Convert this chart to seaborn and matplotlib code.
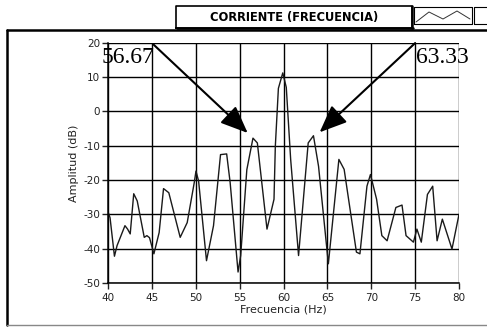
import matplotlib
matplotlib.use("Agg")
import matplotlib.pyplot as plt
import seaborn as sns
import pandas as pd

# Data
freq = [40.0, 40.2, 40.7, 41.0, 41.9, 42.2, 42.5, 42.9, 43.3, 44.1, 44.4, 44.7, 45.2,
        45.8, 46.3, 46.9, 48.2, 49.0, 49.8, 50.0, 50.3, 51.2, 52.0, 52.8, 53.5, 53.9,
        54.8, 55.1, 55.8, 56.5, 57.0, 58.1, 58.9, 59.05, 59.4, 59.9, 60.3, 60.8, 61.7,
        62.8, 63.4, 63.98, 65.1, 66.3, 66.9, 68.3, 68.7, 69.5, 69.9, 70.6, 71.2, 71.8,
        72.8, 73.5, 73.96, 74.8, 75.2, 75.7, 76.4, 77.0, 77.5, 78.1, 79.2, 80.0]
amp = [-29.5, -31.0, -42.2, -39.1, -33.3, -34.3, -35.7, -24.0, -26.1, -36.7, -36.2, -36.8, -41.5,
       -35.3, -22.5, -23.7, -36.7, -32.4, -20.8, -17.4, -20.3, -43.5, -33.3, -12.6, -12.4, -20.8,
       -46.8, -42.0, -17.0, -7.8, -9.2, -34.3, -25.6, -10.2, 6.7, 11.2, 7.0, -14.0, -42.0,
       -9.2, -7.1, -16.0, -44.4, -14.0, -16.9, -41.0, -41.5, -21.8, -18.4, -25.6, -36.2, -37.7,
       -28.0, -27.3, -36.2, -38.1, -34.3, -38.1, -24.2, -21.8, -37.7, -31.4, -40.1, -30.0]
x_ticks = [40, 45, 50, 55, 60, 65, 70, 75, 80]
y_ticks = [-50, -40, -30, -20, -10, 0, 10, 20]
peak_labels = ["56.67", "63.33"]
legend_label = "CORRIENTE (FRECUENCIA)"

df = pd.DataFrame({"Frecuencia (Hz)": freq, "Amplitud (dB)": amp})

sns.set_style("white")
plt.rcParams["font.family"] = ["DejaVu Sans"]
plt.rcParams["axes.unicode_minus"] = False

W, H = 487, 327
fig = plt.figure(figsize=(W / 100, H / 100), dpi=100)
fig.patch.set_facecolor("white")

ax_l, ax_r, ax_t, ax_b = 108.3, 459.0, 42.7, 283.0
ax = fig.add_axes([ax_l / W, 1 - ax_b / H, (ax_r - ax_l) / W, (ax_b - ax_t) / H])
ax.set_facecolor("white")

sns.lineplot(data=df, x="Frecuencia (Hz)", y="Amplitud (dB)", ax=ax,
             color="#1a1a1a", linewidth=1.0, estimator=None, sort=False)

ax.set_xlim(40, 80)
ax.set_ylim(-50, 20)
ax.set_xticks(x_ticks)
ax.set_yticks(y_ticks)
ax.grid(True, color="black", linewidth=1.0)
ax.set_axisbelow(True)
for s in ["top", "right"]:
    ax.spines[s].set_visible(False)
for s in ["left", "bottom"]:
    ax.spines[s].set_color("black")
    ax.spines[s].set_linewidth(1.1)
ax.tick_params(axis="both", which="major", labelsize=7.5, colors="#222222",
               direction="out", length=4, width=1, pad=2, left=True, bottom=True)
ax.tick_params(axis="x", pad=3)
ax.set_xlabel("Frecuencia (Hz)", fontsize=8, color="#222222", labelpad=1)
ax.set_ylabel("Amplitud (dB)", fontsize=8, color="#222222", labelpad=3)

# Peak annotations
ax.text(39.28, 14.1, peak_labels[0], fontsize=17, family="Liberation Serif",
        color="black", ha="left", va="baseline", clip_on=False, zorder=5)
ax.text(75.14, 14.1, peak_labels[1], fontsize=17, family="Liberation Serif",
        color="black", ha="left", va="baseline", clip_on=False, zorder=5)
arrow_kw = dict(arrowstyle="-|>,head_length=1.2,head_width=0.5", color="black",
                lw=1.5, mutation_scale=14, shrinkA=0, shrinkB=0)
ax.annotate("", xy=(55.9, -6.3), xytext=(45.1, 19.6), arrowprops=arrow_kw,
            annotation_clip=False, zorder=6)
ax.annotate("", xy=(64.1, -6.1), xytext=(75.0, 19.9), arrowprops=arrow_kw,
            annotation_clip=False, zorder=6)

# Overlay for frame (pixel coordinates)
ov = fig.add_axes([0, 0, 1, 1], zorder=-1)
ov.set_xlim(0, W)
ov.set_ylim(H, 0)
ov.axis("off")
ov.plot([7, 7], [30, 325], color="black", lw=1.8)
ov.plot([7, W], [30, 30], color="black", lw=1.8)
ov.plot([7, W], [325, 325], color="#888888", lw=1.0)

# legend header
ov2 = fig.add_axes([0, 0, 1, 1], zorder=3)
ov2.set_xlim(0, W)
ov2.set_ylim(H, 0)
ov2.axis("off")
ov2.plot([176, 176, 412, 412, 176], [28, 6, 6, 28, 28], color="black", lw=1.2)
ov2.plot([177, 413], [27.5, 27.5], color="black", lw=1.8)
ov2.plot([411.5, 411.5], [6, 28], color="black", lw=1.8)
ov2.plot([414, 414, 472, 472, 414], [24, 7, 7, 24, 24], color="black", lw=0.8)
ov2.plot([474, 474, W], [24, 7, 7], color="black", lw=0.8)
ov2.plot([474, W], [24, 24], color="black", lw=0.8)
ov2.plot([416, 429, 443, 457, 470], [22, 12, 19, 11, 19], color="#333333", lw=0.7)
ov2.text(294.5, 17, legend_label, fontsize=8.3, fontweight="bold", ha="center",
         va="center", color="black")

fig.savefig("out.png", dpi=100, facecolor="white")
